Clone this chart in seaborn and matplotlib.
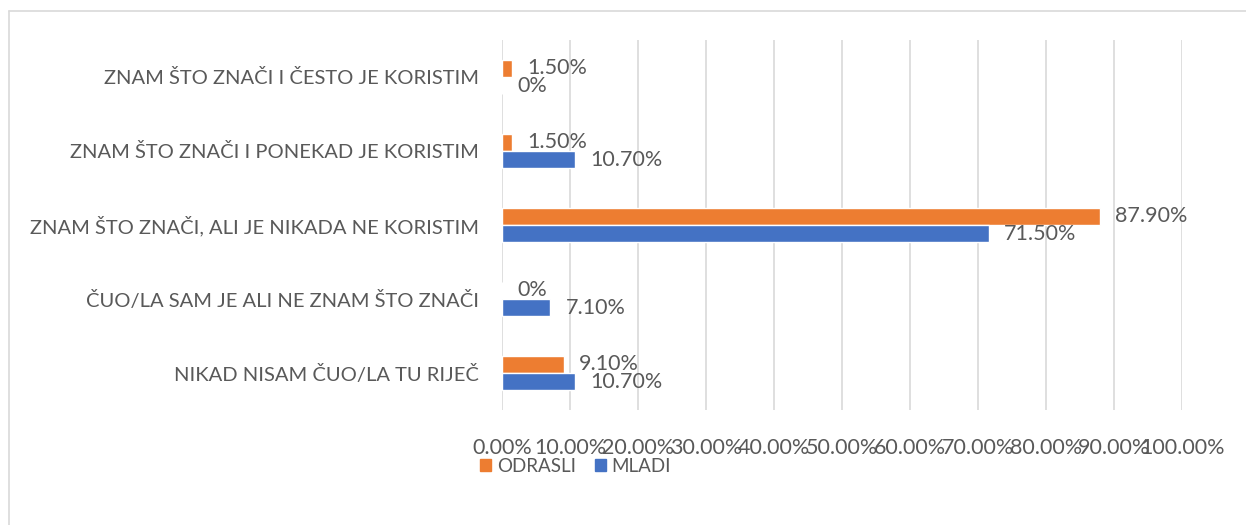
import pandas as pd
import matplotlib.pyplot as plt
import seaborn as sns
from matplotlib.lines import Line2D
from matplotlib.ticker import FuncFormatter

# chart data
categories = [
    "ZNAM ŠTO ZNAČI I ČESTO JE KORISTIM",
    "ZNAM ŠTO ZNAČI I PONEKAD JE KORISTIM",
    "ZNAM ŠTO ZNAČI, ALI JE NIKADA NE KORISTIM",
    "ČUO/LA SAM JE ALI NE ZNAM ŠTO ZNAČI",
    "NIKAD NISAM ČUO/LA TU RIJEČ",
]
odrasli = [1.5, 1.5, 87.9, 0.0, 9.1]
mladi = [0.0, 10.7, 71.5, 7.1, 10.7]
series = ["ODRASLI", "MLADI"]
xticks = [0, 10, 20, 30, 40, 50, 60, 70, 80, 90, 100]

df = pd.DataFrame({
    "category": categories * 2,
    "group": [series[0]] * len(categories) + [series[1]] * len(categories),
    "value": odrasli + mladi,
})

sns.set_style("white")
plt.rcParams["font.family"] = ["Lato", "DejaVu Sans"]
text_color = "#595959"

fig = plt.figure(figsize=(12.46, 5.25), dpi=100)
ax = fig.add_axes([0.403, 0.219, 0.546, 0.705])

colors = {"ODRASLI": "#ED7D31", "MLADI": "#4472C4"}
sns.barplot(data=df, y="category", x="value", hue="group", hue_order=series,
            order=categories, palette=colors, width=0.47, orient="h",
            saturation=1, ax=ax, legend=False)

# value labels
for cont, vals in zip(ax.containers, [odrasli, mladi]):
    labels = ["0%" if v == 0 else f"{v:.2f}%" for v in vals]
    ax.bar_label(cont, labels=labels, padding=11, fontsize=15.5, color=text_color)

ax.set_xlim(0, 100)
ax.set_ylim(4.5, -0.5)
ax.set_xticks(xticks)
ax.xaxis.set_major_formatter(FuncFormatter(lambda v, p: f"{v:.2f}%"))
ax.grid(axis="x", color="#d9d9d9", linewidth=1.2)
ax.set_axisbelow(True)
for s in ax.spines.values():
    s.set_visible(False)
ax.tick_params(axis="x", length=0, pad=20, labelsize=15.5, labelcolor=text_color)
ax.tick_params(axis="y", length=0, pad=17, labelsize=14.5, labelcolor=text_color)
ax.set_xlabel("")
ax.set_ylabel("")

handles = [plt.Rectangle((0, 0), 1, 1, color=colors[s]) for s in series]
fig.legend(handles, series, loc="center", bbox_to_anchor=(0.462, 0.112), ncol=2,
           frameon=False, fontsize=13.5, handlelength=0.6, handleheight=0.6,
           handletextpad=0.3, columnspacing=1.0, labelcolor=text_color)

# outer chart border (top and left visible)
fig.add_artist(Line2D([9 / 1246, 1], [1 - 11 / 525, 1 - 11 / 525], color="#d9d9d9", lw=1.2))
fig.add_artist(Line2D([9 / 1246, 9 / 1246], [0, 1 - 11 / 525], color="#d9d9d9", lw=1.2))

fig.savefig("out.png", dpi=100)
